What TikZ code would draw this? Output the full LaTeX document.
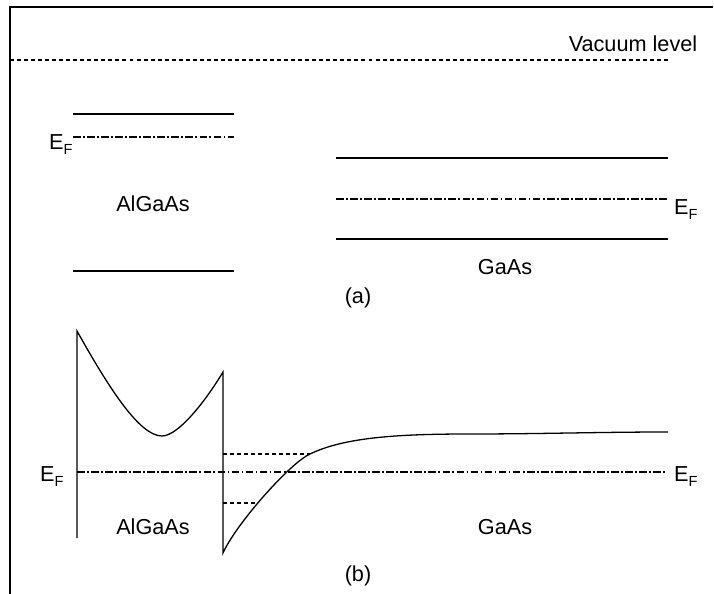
\documentclass[tikz,border=0pt]{standalone}
\usepackage{fontspec}
\setmainfont{Liberation Sans}
\newcommand{\EF}{E\raisebox{-4pt}{\fontsize{12.5}{13}\selectfont F}}

\begin{document}
\begin{tikzpicture}[
    x=0.03cm, y=-0.03cm,
    % Plain band edges
    band/.style={line width=1.1pt},
    % Vacuum level and bound states
    vac/.style={line width=0.9pt, dash pattern=on 3.4pt off 2.6pt},
    % Fermi level (dash-dot)
    fermi/.style={line width=1pt, dash pattern=on 6.5pt off 2pt on 1.5pt off 2pt},
    lbl/.style={inner sep=0pt, anchor=base, font=\fontsize{18.5}{22}\selectfont}
]
    \useasboundingbox (0,0) rectangle (714,594);

    % --- Frame ---
    \draw[band] (10,594) -- (10,7) -- (713,7);

    % --- (a) Separate materials ---
    \draw[vac] (10,60) -- (668,60);
    \node[lbl] (vaclevel) at (633,52) {Vacuum level};

    % AlGaAs
    \draw[band] (73,114) -- (234,114);
    \draw[fermi] (73,137) -- (234,137);
    \draw[band] (73,271) -- (234,271);
    \node[lbl, anchor=base west] (efAL) at (49,150) {\EF};
    \node[lbl] (algaasA) at (153,212) {AlGaAs};

    % GaAs
    \draw[band] (336,158) -- (668,158);
    \draw[fermi] (336,199) -- (668,199);
    \draw[band] (336,239) -- (668,239);
    \node[lbl, anchor=base west] (efAR) at (674,215) {\EF};
    \node[lbl] (gaasA) at (505,275) {GaAs};

    \node[lbl] (capA) at (358,304) {(a)};

    % --- (b) Heterojunction in equilibrium ---
    \coordinate (leftBot) at (77,538);
    \coordinate (leftTop) at (77,331);
    \coordinate (barMin) at (162,436);
    \coordinate (ifTop) at (223,372);
    \coordinate (ifBot) at (223,553);
    \coordinate (wellUp) at (310,454);
    \coordinate (wellLo) at (255,503);
    \coordinate (gaasEnd) at (668,432);

    \draw[band] (leftBot) -- (leftTop)
        .. controls (110,390) and (140,436) .. (barMin)
        .. controls (178,436) and (205,402) .. (ifTop)
        -- (ifBot)
        .. controls (236,524) and (290,463) .. (wellUp)
        .. controls (345,437) and (400,434) .. (470,434)
        .. controls (540,434) and (600,432) .. (gaasEnd);

    % Bound states in the well
    \draw[vac] (ifTop |- wellUp) -- (wellUp);
    \draw[vac] (ifTop |- wellLo) -- (wellLo);

    % Fermi level
    \draw[fermi] (77,472) -- (665,472);
    \node[lbl, anchor=base west] (efBL) at (40,482) {\EF};
    \node[lbl, anchor=base west] (efBR) at (674,482) {\EF};

    \node[lbl] (algaasB) at (153,534) {AlGaAs};
    \node[lbl] (gaasB) at (505,534) {GaAs};
    \node[lbl] (capB) at (358,581) {(b)};

\end{tikzpicture}
\end{document}
